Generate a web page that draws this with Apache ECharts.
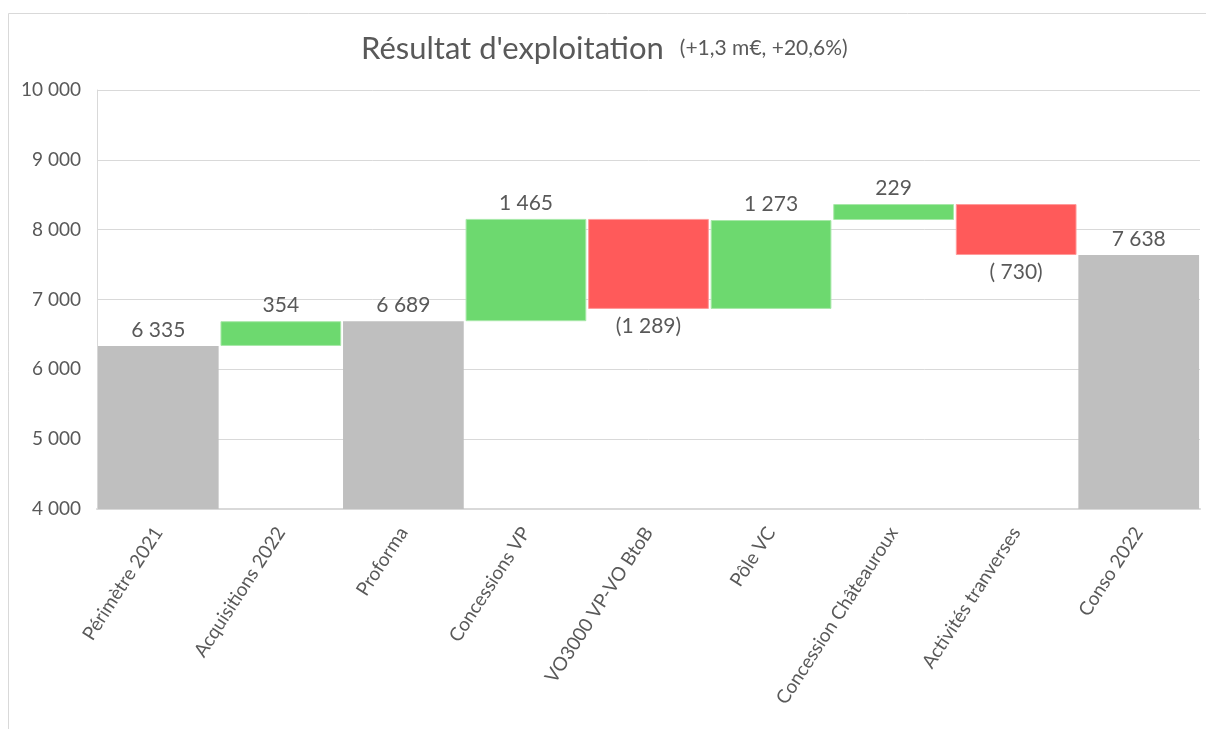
<!DOCTYPE html>
<html>
<head>
<meta charset="utf-8">
<script src="https://cdn.jsdelivr.net/npm/echarts@6/dist/echarts.min.js"></script>
<style>
html,body{margin:0;padding:0;background:#fff;}
#c{width:1206px;height:729px;}
</style>
</head>
<body>
<div id="c"></div>
<script>
const categories = ['Périmètre 2021','Acquisitions 2022','Proforma','Concessions VP','VO3000 VP-VO BtoB','Pôle VC','Concession Châteauroux','Activités tranverses','Conso 2022'];
const values = [6335, 354, 6689, 1465, -1289, 1273, 229, -730, 7638];
const isTotal = [true, false, true, false, false, false, false, false, true];
const yTicks = [4000, 5000, 6000, 7000, 8000, 9000, 10000];

const fmt = v => String(Math.round(Math.abs(v))).replace(/\B(?=(\d{3})+(?!\d))/g, ' ');

const baseData = [], totalData = [], upData = [], downData = [];
let running = 0;
values.forEach((v, i) => {
  if (isTotal[i]) {
    running = v;
    baseData.push(0); totalData.push(v); upData.push('-'); downData.push('-');
  } else if (v >= 0) {
    baseData.push(running); totalData.push('-'); upData.push(v); downData.push('-');
    running += v;
  } else {
    running += v;
    baseData.push(running); totalData.push('-'); upData.push('-'); downData.push(-v);
  }
});

const FONT = 'Lato, "Open Sans", sans-serif';
const labelStyle = {color:'#595959', fontSize:21, fontFamily:FONT};

const chart = echarts.init(document.getElementById('c'), null, {renderer:'canvas'});
chart.setOption({
  animation:false,
  backgroundColor:'#fff',
  graphic:[{type:'rect', shape:{x:8.5,y:13.5,width:1300,height:800}, style:{fill:'none', stroke:'#d9d9d9', lineWidth:1}, silent:true, z:-10}],
  title:{
    text:'{a|Résultat d\'exploitation}{b|(+1,3 m€, +20,6%)}',
    left:356, top:28,
    textStyle:{fontWeight:'normal', rich:{
      a:{fontSize:31, color:'#595959', fontFamily:FONT, fontWeight:'normal'},
      b:{fontSize:21, color:'#595959', fontFamily:FONT, fontWeight:'normal', padding:[0,0,0,16]}
    }}
  },
  grid:{left:97, right:6, top:90, bottom:220, containLabel:false},
  xAxis:{
    type:'category', data:categories,
    axisLine:{lineStyle:{color:'#d9d9d9', width:2}},
    axisTick:{show:false},
    axisLabel:{interval:0, rotate:57, color:'#595959', fontSize:19, fontFamily:FONT, margin:20}
  },
  yAxis:{
    type:'value', min:4000, max:10000, interval:1000,
    axisLine:{show:true, lineStyle:{color:'#d9d9d9'}},
    axisTick:{show:false},
    splitLine:{lineStyle:{color:'#d9d9d9'}},
    axisLabel:{color:'#595959', fontSize:19, fontFamily:FONT, margin:16,
      formatter: v => yTicks.includes(v) ? fmt(v) : ''}
  },
  series:[
    {type:'bar', stack:'w', data:baseData, itemStyle:{color:'transparent'}, barCategoryGap:'1.5%', silent:true},
    {type:'bar', stack:'w', data:totalData, itemStyle:{color:'#bfbfbf'},
      label:{show:true, position:'top', distance:5, ...labelStyle, formatter:p => fmt(p.value)}},
    {type:'bar', stack:'w', data:upData, itemStyle:{color:'#6dd96f', borderColor:'#a8e8a9', borderWidth:1},
      label:{show:true, position:'top', distance:5, ...labelStyle, formatter:p => fmt(p.value)}},
    {type:'bar', stack:'w', data:downData, itemStyle:{color:'#ff5a5a', borderColor:'#ff9a9a', borderWidth:1},
      label:{show:true, position:'bottom', distance:7, ...labelStyle, formatter:p => '(' + (p.value < 1000 ? ' ' : '') + fmt(p.value) + ')'}}
  ]
});
</script>
</body>
</html>
